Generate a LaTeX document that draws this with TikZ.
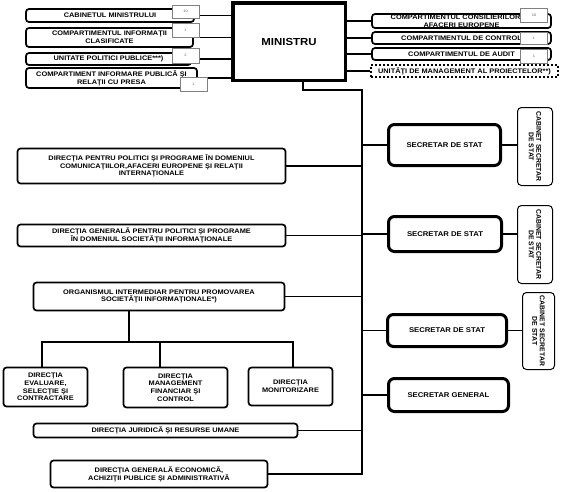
\documentclass[tikz,border=0pt]{standalone}
\usepackage{fontspec}
\setmainfont{Liberation Sans}[FakeStretch=1.12]
\newfontfamily\cabfont{Liberation Sans}
\usetikzlibrary{positioning, calc}

\tikzset{
  box/.style={draw, fill=white, rounded corners=3pt, line width=1.7pt, align=center,
    inner sep=0.5pt, font=\fontsize{6.6}{7.6}\selectfont\bfseries},
  sdsbox/.style={box, line width=3pt, rounded corners=6pt, font=\fontsize{6.9}{8}\selectfont\bfseries},
  cabbox/.style={draw, fill=white, rounded corners=4pt, line width=1pt, align=center,
    inner sep=0.5pt, rotate=-90, font=\cabfont\fontsize{6.9}{7.4}\selectfont\bfseries},
  minbox/.style={draw, fill=white, line width=3.5pt, font=\fontsize{10.2}{12}\selectfont\bfseries},
  dotbox/.style={box, rounded corners=0pt, line width=2.2pt, dash pattern=on 2pt off 2pt},
  nrbox/.style={draw=gray, fill=white, line width=0.5pt, text=gray!80!black, inner sep=0pt,
    minimum width=27pt, font=\fontsize{3.6}{4}\selectfont},
  link/.style={line width=1.1pt},
}

\begin{document}
\begin{tikzpicture}[x=1pt, y=-1pt]
\useasboundingbox (0,0) rectangle (561,491);

% minister
\node (min) [minbox, minimum width=112.5pt, minimum height=77.5pt] at (289,41.5) {MINISTRU};

% left top
\node (cab)  [box, minimum width=168pt, minimum height=13pt] at (110,15.5) {CABINETUL MINISTRULUI};
\node (ninf) [box, minimum width=167pt, minimum height=19pt] at (109.5,37.5) {COMPARTIMENTUL  INFORMAŢII\\CLASIFICATE};
\node (upp)  [box, minimum width=165pt, minimum height=12pt] at (108.5,59) {UNITATE POLITICI PUBLICE***)};
\node (cipr) [box, minimum width=171pt, minimum height=20pt] at (111.5,78) {COMPARTIMENT INFORMARE PUBLICĂ ŞI\\RELAŢII CU PRESA};

% right top
\node (cons) [box, minimum width=179pt, minimum height=14pt] at (461.5,21) {COMPARTIMENTUL CONSILIERILOR PE\\AFACERI EUROPENE};
\node (ctrl) [box, minimum width=179pt, minimum height=12pt] at (461.5,38) {COMPARTIMENTUL DE CONTROL};
\node (aud)  [box, minimum width=179pt, minimum height=12pt] at (461.5,54) {COMPARTIMENTUL DE AUDIT};
\node (ump)  [dotbox, minimum width=187pt, minimum height=12pt] at (464.5,71) {UNITĂŢI  DE MANAGEMENT AL PROIECTELOR**)};

% secretaries
\node (sds1) [sdsbox, minimum width=112pt, minimum height=41pt] at (444.5,145) {SECRETAR DE STAT};
\node (sds2) [sdsbox, minimum width=113pt, minimum height=35pt] at (445,234) {SECRETAR DE STAT};
\node (sds3) [sdsbox, minimum width=119pt, minimum height=32pt] at (447,330.5) {SECRETAR DE STAT};
\node (sg)   [sdsbox, minimum width=120pt, minimum height=33pt] at (448.5,395) {SECRETAR GENERAL};

\node (cs1) [cabbox, minimum width=78pt, minimum height=35pt] at (535,146.5) {CABINET SECRETAR\\DE STAT};
\node (cs2) [cabbox, minimum width=78pt, minimum height=35pt] at (535,244.5) {CABINET SECRETAR\\DE STAT};
\node (cs3) [cabbox, minimum width=77pt, minimum height=32pt] at (538.5,331) {CABINET SECRETAR\\DE STAT};

% directions
\node (dpp) [box, minimum width=268pt, minimum height=35pt] at (151.5,166) {DIRECŢIA  PENTRU POLITICI ŞI PROGRAME ÎN DOMENIUL\\COMUNICAŢIILOR,AFACERI EUROPENE ŞI RELAŢII\\INTERNAŢIONALE};
\node (dgp) [box, minimum width=268pt, minimum height=22pt] at (151.5,235.5) {DIRECŢIA GENERALĂ PENTRU POLITICI ŞI  PROGRAME\\ÎN DOMENIUL SOCIETĂŢII INFORMAŢIONALE};
\node (oi)  [box, minimum width=251pt, minimum height=28pt] at (159,296.5) {ORGANISMUL INTERMEDIAR PENTRU PROMOVAREA\\SOCIETĂŢII INFORMAŢIONALE*)};
\node (de)  [box, minimum width=84pt, minimum height=39pt] at (45.5,387) {DIRECŢIA\\EVALUARE,\\SELECŢIE ŞI\\CONTRACTARE};
\node (dm)  [box, minimum width=104pt, minimum height=40pt] at (175.5,387.5) {DIRECŢIA\\MANAGEMENT\\FINANCIAR ŞI\\CONTROL};
\node (dmo) [box, minimum width=84pt, minimum height=38pt] at (290.5,386.5) {DIRECŢIA\\MONITORIZARE};
\node (dj)  [box, minimum width=264pt, minimum height=14pt] at (165.5,430.5) {DIRECŢIA JURIDICĂ ŞI RESURSE UMANE};
\node (dge) [box, minimum width=217pt, minimum height=27pt] at (159,474) {DIRECŢIA GENERALĂ ECONOMICĂ,\\ACHIZIŢII PUBLICE ŞI ADMINISTRATIVĂ};

% links to the minister
\foreach \n in {cab,ninf,upp,cipr}
  \draw[link] (\n.east) -- (\n.east -| min.west);
\foreach \n in {cons,ctrl,aud,ump}
  \draw[link] (min.east |- \n.west) -- (\n.west);

% main trunk
\coordinate (tr) at (362,90);
\coordinate (bus) at (129,342);
\draw[link] ([xshift=14pt]min.south) |- (tr) |- (dge.east);
\foreach \n in {sds1,sds2,sds3,sg}
  \draw[link] (\n.west -| tr) -- (\n.west);
\foreach \n/\c in {sds1/cs1,sds2/cs2,sds3/cs3}
  \draw[link] (\n.east) -- (\n.east -| \c.south);
\foreach \n in {dpp,dgp,oi,dj}
  \draw[link] (\n.east) -- (\n.east -| tr);

% organism branches
\draw[link] ([xshift=-30pt]oi.south) -- (bus);
\draw[link] ([xshift=-3.5pt]de.north) |- ([xshift=2.5pt]dmo.north |- bus) -- ([xshift=2.5pt]dmo.north);
\draw[link] ([xshift=-15.5pt]dm.north) -- ([xshift=-15.5pt]dm.north |- bus);

% staff numbers
\node (n1) [nrbox, minimum height=13pt] at (185.5,11.5) {10};
\node (n2) [nrbox, minimum height=14pt] at (185.5,30) {1};
\node (n3) [nrbox, minimum height=15pt] at (185.5,55.5) {2};
\node (n4) [nrbox, minimum height=14pt] at (193.5,84.5) {1};
\node (r1) [nrbox, minimum height=14pt] at (534,15) {10};
\node (r2) [nrbox, minimum height=12pt] at (533.5,38) {1};
\node (r3) [nrbox, minimum height=14pt] at (534,56) {1};
\end{tikzpicture}
\end{document}
